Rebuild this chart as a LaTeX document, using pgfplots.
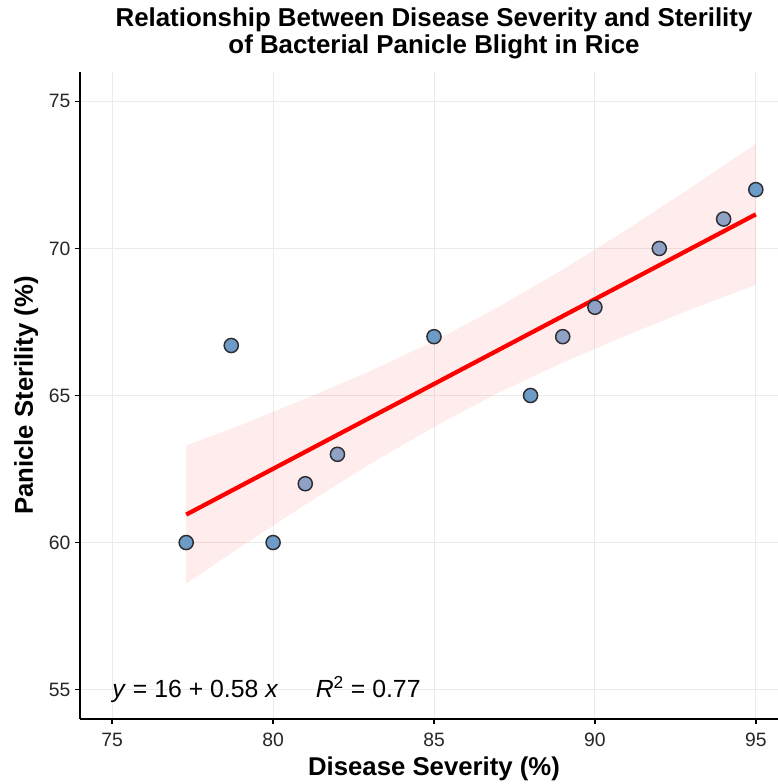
\documentclass[border=0pt]{standalone}
\usepackage{fontspec}
\setmainfont{Liberation Sans}
\usepackage{pgfplots}
\pgfplotsset{compat=1.18}
\definecolor{ptA}{RGB}{108,155,200}
\definecolor{ptB}{RGB}{143,161,197}
\definecolor{gridc}{RGB}{235,235,235}
\definecolor{edgec}{RGB}{45,45,50}
\begin{document}
\begin{tikzpicture}
\begin{axis}[name=ax, scale only axis, width=531pt, height=485.25pt,
  xmin=74, xmax=96, ymin=54, ymax=76,
  axis x line*=bottom, axis y line*=left,
  xtick={75,80,85,90,95}, ytick={55,60,65,70,75},
  tick align=outside, major tick length=3.75pt,
  tick style={black, line width=1.1pt},
  axis line style={black, line width=1.5pt},
  grid=major, major grid style={gridc, line width=0.7pt},
  ticklabel style={font=\fontsize{14.5}{16}\selectfont, text=black!85},
  xticklabel style={yshift=-3pt},
  /pgf/number format/assume math mode=true,
  clip=false]
% confidence band
\addplot[draw=none, fill=red, fill opacity=0.07] coordinates {
 (77.3,58.60) (79,59.86) (81,61.29) (83,62.66) (85,63.93) (86,64.52) (87,65.09)
 (89,66.12) (91,67.05) (93,67.94) (95,68.76)
 (95,73.56) (93,72.08) (91,70.65) (89,69.28) (87,68.01) (86,67.42) (85,66.85)
 (83,65.82) (81,64.89) (79,64.00) (77.3,63.30)} -- cycle;
% regression line
\addplot[red, line width=3.2pt] coordinates {(77.3,60.95) (95,71.16)};
% points
\addplot[only marks, mark=*, mark size=5.3pt, mark options={fill=ptA, draw=edgec, line width=1.1pt}]
 coordinates {(77.3,60) (78.7,66.7) (80,60) (85,67) (88,65) (95,72)};
\addplot[only marks, mark=*, mark size=5.3pt, mark options={fill=ptB, draw=edgec, line width=1.1pt}]
 coordinates {(81,62) (82,63) (89,67) (90,68) (92,70) (94,71)};
\node[anchor=west, inner sep=0pt, font=\fontsize{18.6}{20}\selectfont] at (axis cs:75,55)
 {\textit{y} = 16 + 0.58 \textit{x}\hspace{28pt}\textit{R}\textsuperscript{2} = 0.77};
\end{axis}
\node[anchor=base, font=\bfseries\fontsize{19.4}{21}\selectfont] at ([yshift=34pt]ax.north) {Relationship Between Disease Severity and Sterility};
\node[anchor=base, font=\bfseries\fontsize{19.4}{21}\selectfont] at ([yshift=13.5pt]ax.north) {of Bacterial Panicle Blight in Rice};
\node[anchor=base, font=\bfseries\fontsize{19.3}{21}\selectfont] at ([yshift=-42pt]ax.south) {Disease Severity (\%)};
\node[anchor=base, rotate=90, font=\bfseries\fontsize{19.3}{21}\selectfont] at ([xshift=-35.25pt]ax.west) {Panicle Sterility (\%)};
\pgfresetboundingbox
\path ([shift={(-60pt,-48.75pt)}]ax.south west) rectangle ([shift={(-8.25pt,54pt)}]ax.north east);
\end{tikzpicture}
\end{document}
